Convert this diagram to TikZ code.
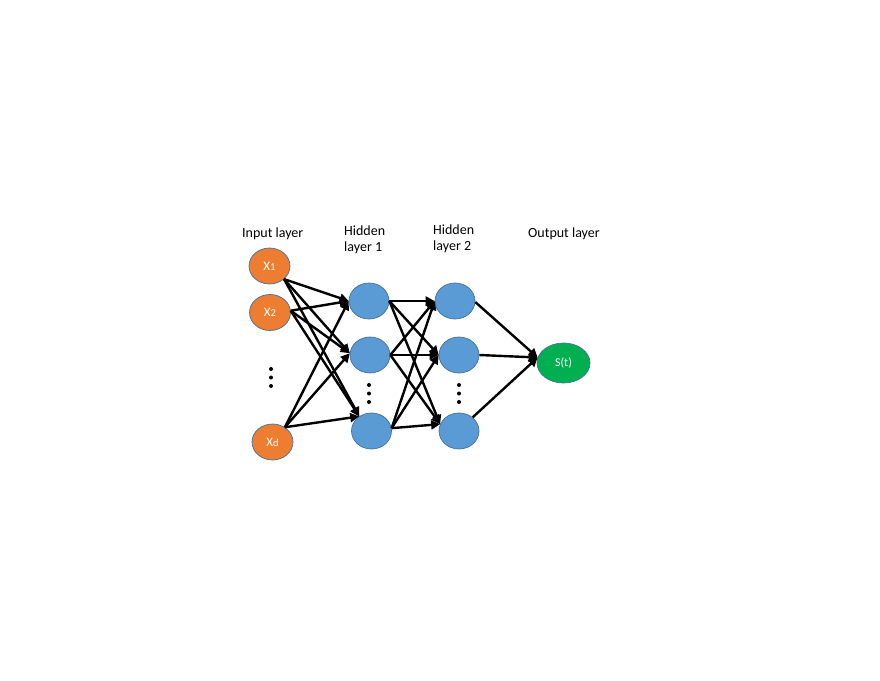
\documentclass[tikz,border=0pt]{standalone}
\usepackage{fontspec}
\setmainfont{Carlito}
\usetikzlibrary{shapes.geometric,arrows.meta}
\definecolor{inorange}{HTML}{ED7D31}
\definecolor{hidblue}{HTML}{5B9BD5}
\definecolor{outgreen}{HTML}{00B050}
\definecolor{nodeline}{HTML}{41719C}
\tikzset{
  neuron/.style={ellipse, draw=nodeline, line width=0.7pt, inner sep=0pt,
    minimum width=41pt, minimum height=36pt, text=white,
    font=\fontsize{13}{14}\selectfont},
  innode/.style={neuron, fill=inorange},
  hidnode/.style={neuron, fill=hidblue, minimum width=40pt},
  outnode/.style={neuron, fill=outgreen, minimum width=53pt, minimum height=40pt,
    font=\fontsize{12}{13}\selectfont},
  layerlabel/.style={anchor=base west, inner sep=0pt, align=left,
    font=\fontsize{14}{16}\selectfont},
  link/.style={line width=2.4pt, -{Triangle[length=9pt,width=9pt]}},
  vdot/.style={circle, fill=black, inner sep=0pt, minimum size=4pt}
}
\newcommand{\subidx}[1]{{\fontsize{10.5}{10.5}\selectfont #1}}
\begin{document}
\begin{tikzpicture}[x=1pt,y=-1pt]
\useasboundingbox (0,0) rectangle (880,680);

% labels
\node[layerlabel] (lin) at (242,237) {Input layer};
\node[layerlabel] (lh1) at (344,251) {Hidden\\layer 1};
\node[layerlabel] (lh2) at (433,250) {Hidden\\layer 2};
\node[layerlabel] (lout) at (528,237) {Output layer};

% nodes
\node[innode] (x1) at (269.5,266) {X\subidx{1}};
\node[innode] (x2) at (270,312.5) {X\subidx{2}};
\node[innode] (xd) at (272.5,442) {X\subidx{d}};

\node[hidnode] (h11) at (369,301) {};
\node[hidnode] (h12) at (370,355) {};
\node[hidnode] (h13) at (371.5,431) {};

\node[hidnode] (h21) at (455,301) {};
\node[hidnode] (h22) at (459,355) {};
\node[hidnode] (h23) at (459,431) {};

\node[outnode] (o) at (563.5,363) {S(t)};

% dots
\foreach \yy [count=\i] in {369,377.5,386} \node[vdot] (din\i) at (271,\yy) {};
\foreach \yy [count=\i] in {385,393.5,402} \node[vdot] (dha\i) at (369,\yy) {};
\foreach \yy [count=\i] in {385,393.5,402} \node[vdot] (dhb\i) at (459,\yy) {};

% input -> hidden 1
\foreach \s/\sa in {x1/-42, x2/5, xd/50}
  \foreach \t/\ta in {h11/180, h12/175, h13/130}
    \draw[link] (\s.\sa) -- (\t.\ta);

% hidden 1 -> hidden 2
\foreach \s/\sa in {h11/0, h12/0, h13/8}
  \foreach \t/\ta in {h21/180, h22/180, h23/160}
    \draw[link] (\s.\sa) -- (\t.\ta);

% hidden 2 -> output
\foreach \s/\sa in {h21/-3, h22/0, h23/45}
  \draw[link] (\s.\sa) -- (o.168);

\end{tikzpicture}
\end{document}
